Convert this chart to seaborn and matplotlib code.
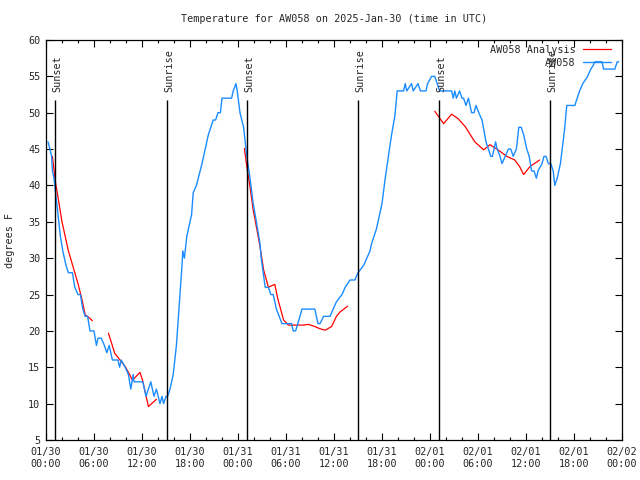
import numpy as np
import pandas as pd
import matplotlib
matplotlib.use("Agg")
import matplotlib.pyplot as plt
from matplotlib.lines import Line2D
from matplotlib.ticker import MultipleLocator
import seaborn as sns

# hours since 2025-01-30 00:00 UTC
obs_hours = [0.25, 0.5, 0.7, 0.8, 1.0, 1.2, 1.5, 1.8, 2.1, 2.5, 2.8, 3.3, 3.6, 4.0, 4.3,
             4.6, 4.9, 5.2, 5.5, 6.0, 6.3, 6.5, 6.9, 7.3, 7.6, 7.9, 8.3, 9.0, 9.2, 9.4,
             9.9, 10.3, 10.6, 10.9, 11.0, 12.1, 12.5, 13.1, 13.5, 13.8, 14.25, 14.5, 14.7,
             15.0, 15.2, 15.5, 15.9, 16.3, 16.75, 17.0, 17.1, 17.3, 17.6, 17.8, 18.2, 18.4,
             18.8, 19.5, 19.9, 20.3, 20.9, 21.2, 21.5, 21.8, 22.0, 23.2, 23.4, 23.75, 23.9,
             24.25, 24.7, 25.1, 25.5, 25.9, 26.3, 26.75, 26.9, 27.4, 27.8, 28.1, 28.4, 28.8,
             29.5, 30.7, 30.9, 31.2, 31.75, 32.0, 33.6, 34.0, 34.25, 34.7, 35.5, 35.9, 36.3,
             37.0, 37.4, 38.0, 38.6, 39.0, 39.7, 40.1, 40.5, 40.7, 41.3, 42.0, 42.4, 42.8,
             43.2, 43.6, 43.9, 44.7, 44.9, 45.1, 45.7, 45.9, 46.5, 46.8, 47.5, 47.7, 48.2,
             48.6, 48.9, 49.2, 50.7, 50.9, 51.1, 51.3, 51.7, 52.0, 52.2, 52.5, 52.8, 53.0,
             53.2, 53.5, 53.75, 54.1, 54.5, 54.75, 55.0, 55.3, 55.6, 55.8, 56.2, 56.4, 56.75,
             57.0, 57.4, 57.8, 58.1, 58.4, 58.8, 59.1, 59.4, 59.7, 60.1, 60.4, 60.7, 61.0,
             61.3, 61.5, 62.0, 62.25, 62.5, 62.8, 63.1, 63.4, 63.6, 63.9, 64.3, 64.8, 65.1,
             66.1, 66.4, 66.7, 67.1, 67.4, 67.7, 68.1, 68.4, 68.6, 69.5, 69.7, 71.1, 71.4,
             71.6]
obs_temps = [46, 45, 44, 42, 41, 39, 36, 33, 31, 29, 28, 28, 26, 25, 25,
             23, 22, 22, 20, 20, 18, 19, 19, 18, 17, 18, 16, 16, 15, 16,
             15, 14, 12, 14, 13, 13, 11, 13, 11, 12, 10, 11, 10,
             11, 11, 12, 14, 18, 25, 29, 31, 30, 33, 34, 36, 39,
             40, 43, 45, 47, 49, 49, 50, 50, 52, 52, 53, 54, 53,
             50, 48, 44, 41, 37.5, 35, 32, 30, 26, 26, 25, 25, 23,
             21, 21, 20, 20, 22, 23, 23, 21, 21, 22, 22, 23, 24,
             25, 26, 27, 27, 28, 29, 30, 31, 32, 34, 37.5, 41, 44,
             47, 49.5, 53, 53, 54, 53, 54, 53, 54, 53, 53, 54, 55,
             55, 54, 53, 53, 52, 53, 52, 53, 52, 52, 51, 52, 51,
             50, 50, 51, 50, 49, 47.5, 46, 45, 44, 44, 46, 45, 44,
             43, 44, 45, 45, 44, 45, 48, 48, 47, 45, 44, 42, 42,
             41, 42, 43, 44, 44, 43, 43, 42, 40, 41, 43, 47.5, 51,
             51, 52, 53, 54, 54.5, 55, 56, 56.5, 57, 57, 56, 56, 57,
             57]

# analysis series, four separate pieces
ana_seg1_hours = [0.8, 1.2, 1.5, 2.0, 2.6, 2.8, 3.2, 3.6, 4.0, 4.5, 4.9, 5.3, 5.8]
ana_seg1_temps = [44, 40.3, 38.4, 35, 32, 31, 29.5, 28, 26.5, 24.3, 22.2, 21.9, 21.4]
ana_seg2_hours = [7.8, 8.6, 9.25, 9.9, 10.5, 10.8, 11.75, 12.1, 12.4, 12.8, 13.8]
ana_seg2_temps = [19.7, 16.9, 16, 15.1, 13.9, 13.2, 14.3, 13.1, 11.6, 9.6, 10.6]
ana_seg3_hours = [24.8, 25.1, 25.5, 25.9, 26.3, 26.75, 27.2, 27.8, 28.6, 29.0, 29.7, 30.3,
                  32.2, 32.8, 33.6, 34.25, 34.9, 35.7, 36.3, 36.75, 37.7]
ana_seg3_temps = [45.1, 42.6, 39.8, 36.6, 34.3, 31.6, 28.4, 26, 26.4, 24.3, 21.5, 20.8,
                  20.8, 20.9, 20.6, 20.3, 20.1, 20.6, 22, 22.6, 23.4]
ana_seg4_hours = [48.6, 49.7, 50.7, 51.5, 52.4, 53.6, 54.7, 55.5, 56.5, 57.6, 58.6, 59.2,
                  59.7, 60.5, 61.7]
ana_seg4_temps = [50.2, 48.5, 49.8, 49.2, 48.1, 46, 44.9, 45.6, 44.9, 44, 43.5, 42.6,
                  41.5, 42.6, 43.5]

sun_hours = [1.17, 15.16, 25.16, 39.04, 49.16, 63.0]
sun_labels = ["Sunset", "Sunrise", "Sunset", "Sunrise", "Sunset", "Sunrise"]

tick_hours = list(range(0, 73, 6))
tick_labels = ["01/30\n00:00", "01/30\n06:00", "01/30\n12:00", "01/30\n18:00",
               "01/31\n00:00", "01/31\n06:00", "01/31\n12:00", "01/31\n18:00",
               "02/01\n00:00", "02/01\n06:00", "02/01\n12:00", "02/01\n18:00",
               "02/02\n00:00"]

obs = pd.DataFrame({"hour": obs_hours, "temp": obs_temps})
ana = pd.concat([
    pd.DataFrame({"hour": h, "temp": t, "seg": i})
    for i, (h, t) in enumerate([(ana_seg1_hours, ana_seg1_temps),
                                (ana_seg2_hours, ana_seg2_temps),
                                (ana_seg3_hours, ana_seg3_temps),
                                (ana_seg4_hours, ana_seg4_temps)])
])

sns.set_style("ticks")
plt.rcParams["font.family"] = ["DejaVu Sans Mono"]
fs = 7.3
red = "#ff0000"
blue = "#1a8cff"

fig = plt.figure(figsize=(6.4, 4.8), dpi=100)
ax = fig.add_axes([46 / 640, 40 / 480, 576 / 640, 400 / 480])

sns.lineplot(data=ana, x="hour", y="temp", units="seg", estimator=None,
             color=red, linewidth=0.9, ax=ax, legend=False)
sns.lineplot(data=obs, x="hour", y="temp", estimator=None,
             color=blue, linewidth=1.0, ax=ax, legend=False)

ax.vlines(sun_hours, 5, 51.75, color="black", linewidth=1.0)
for h, lab in zip(sun_hours, sun_labels):
    ax.text(h + 0.25, 52.85, lab, rotation=90, ha="center", va="bottom", fontsize=fs)

ax.set_xlim(0, 72)
ax.set_ylim(5, 60)
ax.set_xticks(tick_hours)
ax.set_xticklabels(tick_labels)
ax.xaxis.set_minor_locator(MultipleLocator(2))
ax.set_yticks(range(5, 61, 5))
ax.set_xlabel("")
ax.set_ylabel("")

ax.tick_params(which="both", direction="in", top=True, right=True, labelsize=fs,
               color="black", width=0.8)
ax.tick_params(which="major", length=5)
ax.tick_params(which="minor", length=2.5)
ax.tick_params(axis="x", pad=5)
ax.tick_params(axis="y", pad=4)
for sp in ax.spines.values():
    sp.set_visible(True)
    sp.set_linewidth(0.9)
    sp.set_color("black")

handles = [Line2D([], [], color=red, linewidth=0.9),
           Line2D([], [], color=blue, linewidth=1.0)]
ax.legend(handles, ["AW058 Analysis", "AW058"], loc="upper right",
          bbox_to_anchor=(611 / 640, 1 - 45 / 480), bbox_transform=fig.transFigure,
          frameon=False, fontsize=fs, markerfirst=False, handlelength=2.8,
          handletextpad=0.7, labelspacing=0.3, borderpad=0, borderaxespad=0)

fig.text(334 / 640, 1 - 19 / 480, "Temperature for AW058 on 2025-Jan-30 (time in UTC)",
         ha="center", va="center", fontsize=fs)
fig.text(10 / 640, 0.5, "degrees F", rotation=90, ha="center", va="center", fontsize=fs)

fig.savefig("out.png", dpi=100)
